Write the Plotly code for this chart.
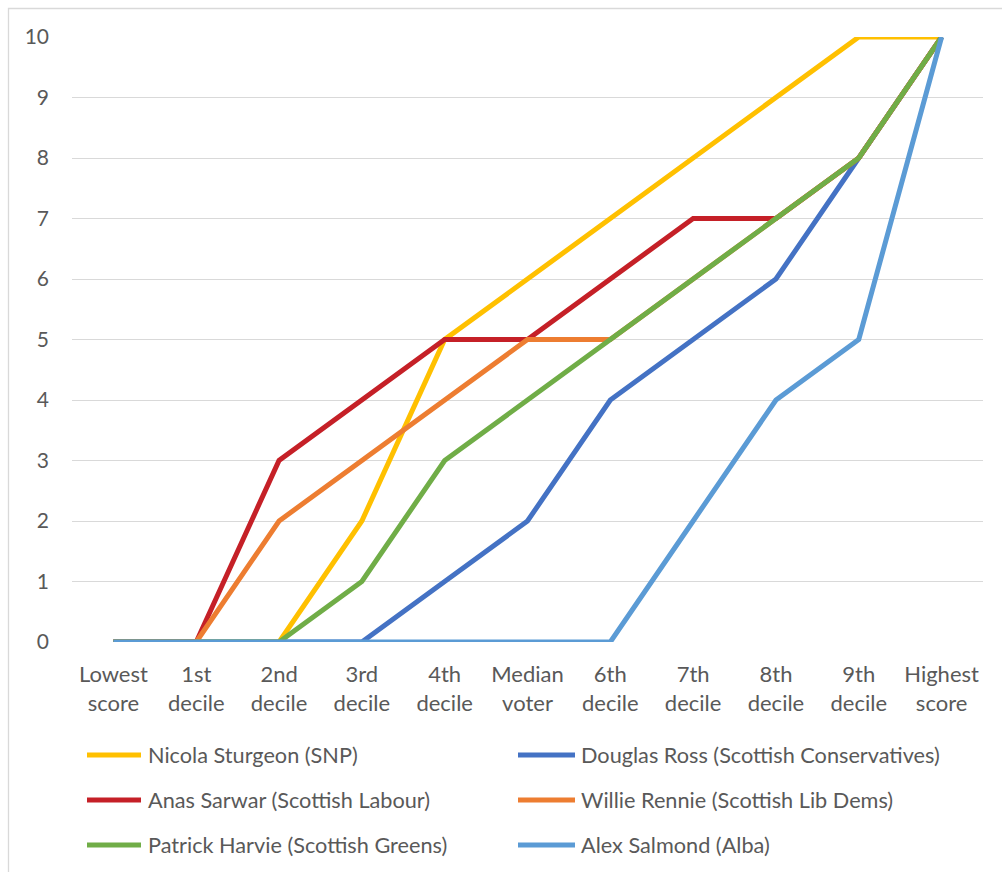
import plotly.graph_objects as go

categories = ["Lowest<br>score", "1st<br>decile", "2nd<br>decile", "3rd<br>decile", "4th<br>decile",
              "Median<br>voter", "6th<br>decile", "7th<br>decile", "8th<br>decile", "9th<br>decile",
              "Highest<br>score"]

sturgeon = [0, 0, 0, 2, 5, 6, 7, 8, 9, 10, 10]
ross = [0, 0, 0, 0, 1, 2, 4, 5, 6, 8, 10]
sarwar = [0, 0, 3, 4, 5, 5, 6, 7, 7, 8, 10]
rennie = [0, 0, 2, 3, 4, 5, 5, 6, 7, 8, 10]
harvie = [0, 0, 0, 1, 3, 4, 5, 6, 7, 8, 10]
salmond = [0, 0, 0, 0, 0, 0, 0, 2, 4, 5, 10]

names = ["Nicola Sturgeon (SNP)", "Douglas Ross (Scottish Conservatives)",
         "Anas Sarwar (Scottish Labour)", "Willie Rennie (Scottish Lib Dems)",
         "Patrick Harvie (Scottish Greens)", "Alex Salmond (Alba)"]
values = [sturgeon, ross, sarwar, rennie, harvie, salmond]
colors = ["#FFC000", "#4472C4", "#C52027", "#ED7D31", "#70AD47", "#5B9BD5"]

FONT = "Lato"
TEXT = "#595959"
W, H = 1002, 872
ML, MR, MT, MB = 72, 19, 37, 230
PW, PH = W - ML - MR, H - MT - MB


def px_x(p):
    """Pixel column -> paper x."""
    return (p - ML) / PW


def px_y(p):
    """Pixel row -> paper y."""
    return (H - MB - p) / PH


fig = go.Figure()
for name, vals, color in zip(names, values, colors):
    fig.add_trace(go.Scatter(
        x=list(range(len(categories))), y=vals, name=name, mode="lines",
        line=dict(color=color, width=5), cliponaxis=False, showlegend=False,
    ))

# Two-column legend underneath the plot, drawn as swatch lines + labels
shapes = [dict(
    type="rect", xref="paper", yref="paper",
    x0=px_x(8.5), x1=px_x(1010), y0=px_y(880), y1=px_y(8.5),
    line=dict(color="#D9D9D9", width=1.3), layer="below",
)]
annotations = []
col_line = [(87, 141), (518, 575)]
col_text = [146, 579]
row_y = [755, 800, 845]
for i, (name, color) in enumerate(zip(names, colors)):
    r, c = divmod(i, 2)
    y = px_y(row_y[r])
    shapes.append(dict(
        type="line", xref="paper", yref="paper",
        x0=px_x(col_line[c][0]), x1=px_x(col_line[c][1]), y0=y, y1=y,
        line=dict(color=color, width=5),
    ))
    annotations.append(dict(
        text=name, xref="paper", yref="paper", x=px_x(col_text[c]), y=y,
        xanchor="left", yanchor="middle", showarrow=False,
        font=dict(family=FONT, size=21.7, color=TEXT),
    ))

fig.update_layout(
    width=W, height=H,
    margin=dict(l=ML, r=MR, t=MT, b=MB),
    paper_bgcolor="white", plot_bgcolor="white",
    font=dict(family=FONT, size=22, color=TEXT),
    showlegend=False,
    xaxis=dict(
        tickmode="array", tickvals=list(range(len(categories))), ticktext=categories,
        range=[-0.5, len(categories) - 0.5], showgrid=False, zeroline=False,
        showline=False, ticks="", ticklabelstandoff=17,
        tickfont=dict(family=FONT, size=22, color=TEXT),
    ),
    yaxis=dict(
        range=[0, 10], dtick=1, showgrid=True, gridcolor="#D9D9D9", gridwidth=1.3,
        zeroline=False, showline=False, ticks="", ticklabelstandoff=22,
        tickfont=dict(family=FONT, size=21, color=TEXT),
    ),
    shapes=shapes,
    annotations=annotations,
)

fig.write_html("out.html")
